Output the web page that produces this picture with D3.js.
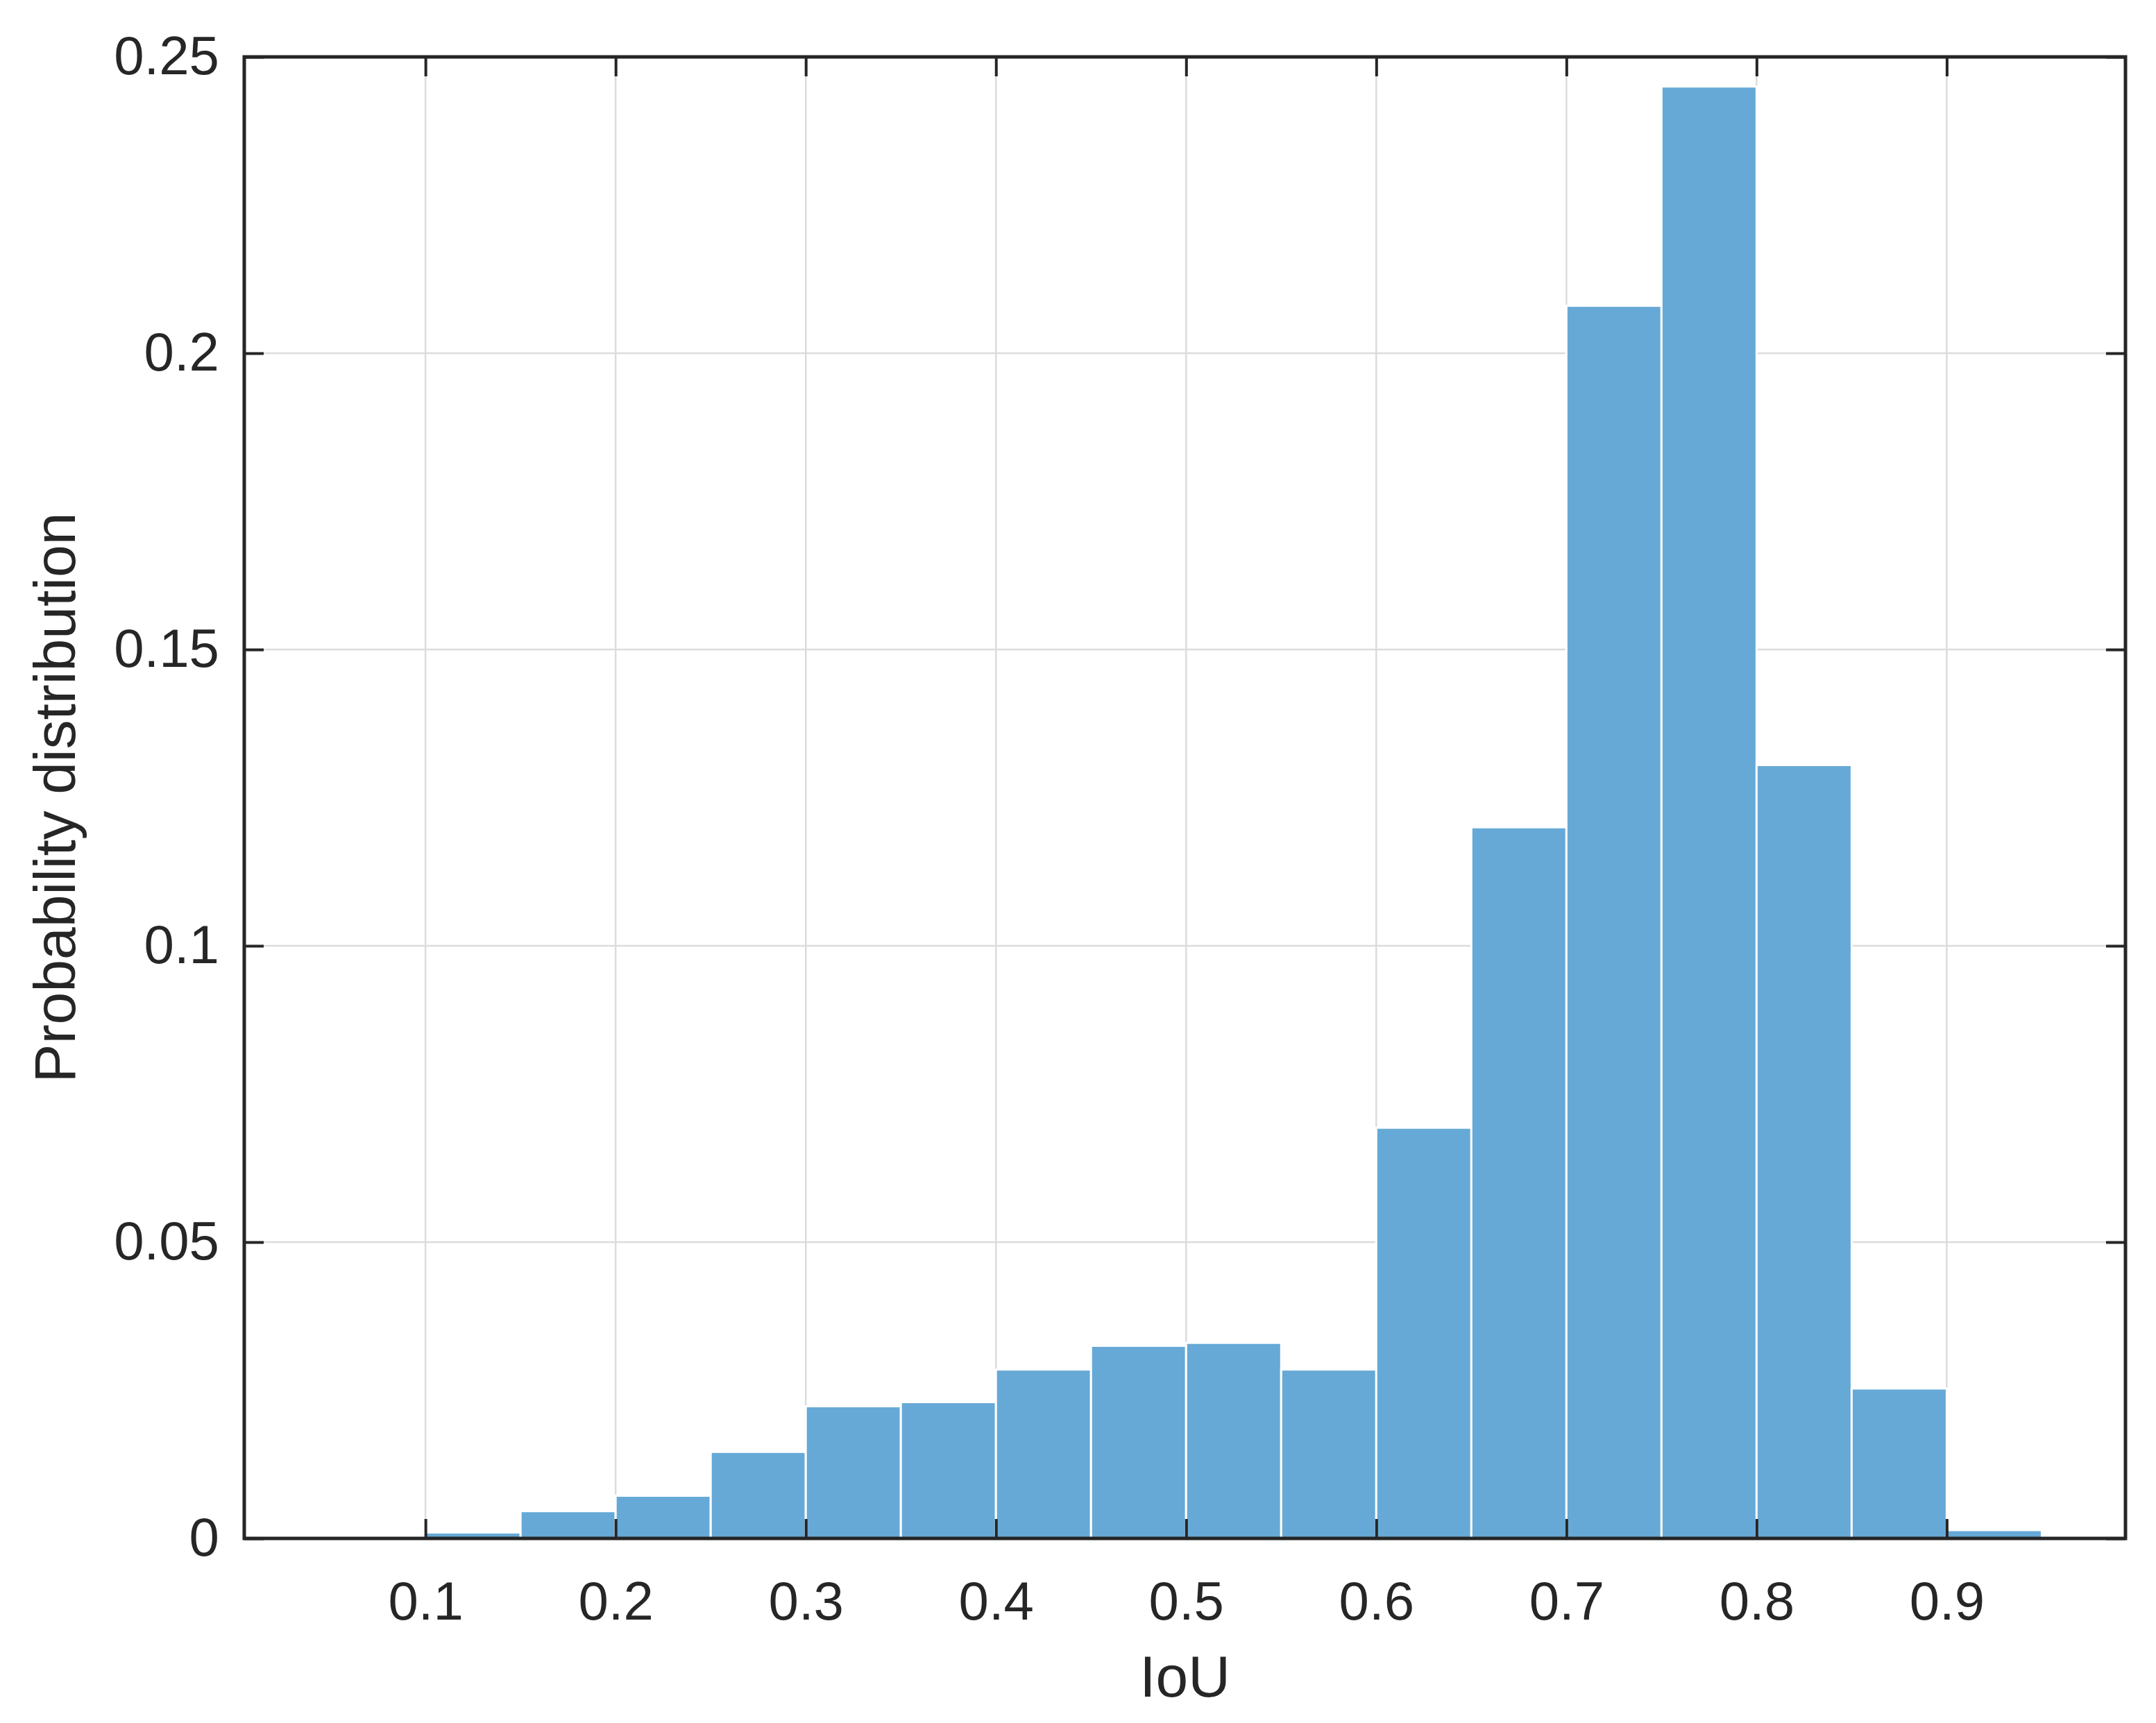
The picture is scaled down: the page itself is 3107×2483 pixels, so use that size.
<!DOCTYPE html>
<html><head><meta charset="utf-8">
<script src="https://cdn.jsdelivr.net/npm/d3@7"></script>
<style>body{margin:0;background:#fff}</style></head>
<body><script>
const binEdges = [0.10,0.15,0.20,0.25,0.30,0.35,0.40,0.45,0.50,0.55,0.60,0.65,0.70,0.75,0.80,0.85,0.90,0.95];
const probs = [0.0010,0.0046,0.0072,0.0146,0.0223,0.0230,0.0285,0.0325,0.0330,0.0285,0.0693,0.1200,0.2080,0.2450,0.1305,0.0253,0.0014];
const xTicks = [0.1,0.2,0.3,0.4,0.5,0.6,0.7,0.8,0.9];
const yTicks = [0,0.05,0.1,0.15,0.2,0.25];
const xLabel = "IoU", yLabel = "Probability distribution";

const W=3107,H=2483, L=352,R=3063,T=82,B=2217;
const svg=d3.select("body").append("svg").attr("width",W).attr("height",H)
  .style("font-family","'Liberation Sans',Arial,sans-serif");
const x=d3.scaleLinear().domain([0.0047,0.994]).range([L,R]);
const y=d3.scaleLinear().domain([0,0.25]).range([B,T]);
const ink="#262626";
// grid
svg.append("g").selectAll("line").data(xTicks).join("line")
 .attr("x1",d=>x(d)).attr("x2",d=>x(d)).attr("y1",T).attr("y2",B)
 .attr("stroke","#dcdcdc").attr("stroke-width",2.5);
svg.append("g").selectAll("line").data(yTicks).join("line")
 .attr("y1",d=>y(d)).attr("y2",d=>y(d)).attr("x1",L).attr("x2",R)
 .attr("stroke","#dcdcdc").attr("stroke-width",2.5);
// bars
svg.append("g").selectAll("rect").data(probs).join("rect")
 .attr("x",(d,i)=>x(binEdges[i])).attr("width",(d,i)=>x(binEdges[i+1])-x(binEdges[i]))
 .attr("y",d=>y(d)).attr("height",d=>B-y(d))
 .attr("fill","rgb(102,169,214)").attr("stroke","#fff").attr("stroke-width",3);
// axes
const tl=28;
const gx=svg.append("g").attr("transform",`translate(0,${B})`)
 .call(d3.axisBottom(x).tickValues(xTicks).tickSizeInner(-tl).tickSizeOuter(0).tickPadding(62).tickFormat(d3.format("")));
const gy=svg.append("g").attr("transform",`translate(${L},0)`)
 .call(d3.axisLeft(y).tickValues(yTicks).tickSizeInner(-tl).tickSizeOuter(0).tickPadding(36).tickFormat(d3.format("")));
svg.append("g").attr("transform",`translate(0,${T})`)
 .call(d3.axisTop(x).tickValues(xTicks).tickSizeInner(-tl).tickSizeOuter(0).tickFormat(""));
svg.append("g").attr("transform",`translate(${R},0)`)
 .call(d3.axisRight(y).tickValues(yTicks).tickSizeInner(-tl).tickSizeOuter(0).tickFormat(""));
svg.selectAll(".domain").remove();
svg.selectAll(".tick line").attr("stroke",ink).attr("stroke-width",4);
svg.selectAll(".tick text").attr("fill",ink).style("font-size","78px");
svg.append("rect").attr("x",L).attr("y",T).attr("width",R-L).attr("height",B-T)
 .attr("fill","none").attr("stroke",ink).attr("stroke-width",5);
svg.append("text").attr("x",(L+R)/2).attr("y",2445).attr("text-anchor","middle")
 .attr("fill",ink).style("font-size","84px").text(xLabel);
svg.append("text").attr("transform",`translate(108,${(T+B)/2}) rotate(-90)`).attr("text-anchor","middle")
 .attr("fill",ink).style("font-size","84px").text(yLabel);
</script></body></html>
